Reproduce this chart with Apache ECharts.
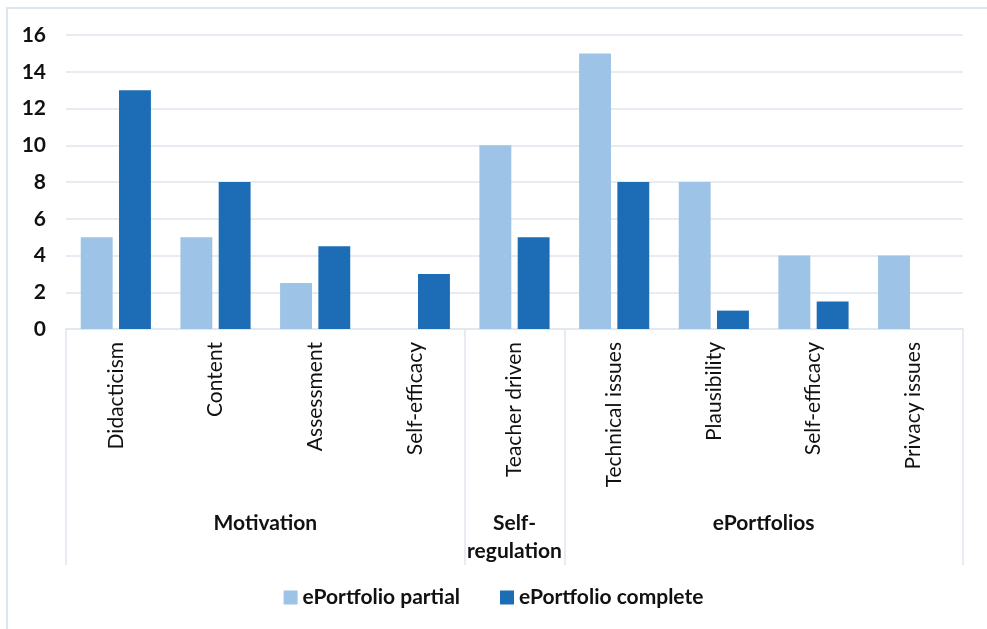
<!DOCTYPE html>
<html>
<head>
<meta charset="utf-8">
<script src="https://cdn.jsdelivr.net/npm/echarts@6/dist/echarts.min.js"></script>
<style>
  html, body { margin: 0; padding: 0; background: #fff; }
  #chart { width: 987px; height: 629px; }
</style>
</head>
<body>
<div id="chart"></div>
<script>
// categories and values
const categories = ['Didacticism', 'Content', 'Assessment', 'Self-efficacy', 'Teacher driven',
  'Technical issues', 'Plausibility', 'Self-efficacy', 'Privacy issues'];
const partial = [5, 5, 2.5, 0, 10, 15, 8, 4, 4];
const complete = [13, 8, 4.5, 3, 5, 8, 1, 1.5, 0];
const groupNames = ['Motivation', 'Self-\nregulation', 'ePortfolios'];
const groupSpans = [4, 1, 4];
const yTicks = [0, 2, 4, 6, 8, 10, 12, 14, 16];

// group centres and boundaries in category units
const groupCenters = [];
const groupStarts = [];
let acc = 0;
groupSpans.forEach(s => { groupStarts.push(acc); groupCenters.push(acc + s / 2); acc += s; });

const font = 'Lato, "Open Sans", sans-serif';
const lineCol = '#dfe6ee';

const chart = echarts.init(document.getElementById('chart'));
chart.setOption({
  animation: false,
  graphic: [{
    type: 'rect',
    shape: { x: 7, y: 8, width: 990, height: 640 },
    style: { fill: 'none', stroke: '#dde5ee', lineWidth: 2 },
    silent: true
  }],
  grid: { left: 66, right: 24, top: 35, bottom: 300 },
  legend: {
    bottom: 16,
    left: 'center',
    itemWidth: 14,
    itemHeight: 14,
    itemGap: 40,
    icon: 'rect',
    textStyle: { fontFamily: font, fontSize: 21, fontWeight: 'bold', color: '#111' }
  },
  xAxis: [{
    type: 'category',
    data: categories,
    axisLine: { show: true, lineStyle: { color: lineCol, width: 1.5 } },
    axisTick: {
      show: true,
      length: 236,
      interval: (i) => groupStarts.indexOf(i) >= 0,
      lineStyle: { color: lineCol, width: 1.5 }
    },
    axisLabel: {
      rotate: 90,
      interval: 0,
      margin: 13,
      fontFamily: font,
      fontSize: 21,
      color: '#111'
    }
  }, {
    type: 'value',
    position: 'bottom',
    min: 0,
    max: categories.length,
    axisLine: { show: false },
    axisTick: { show: false },
    splitLine: { show: false },
    axisLabel: {
      customValues: groupCenters,
      margin: 180,
      fontFamily: font,
      fontSize: 21,
      fontWeight: 'bold',
      lineHeight: 28,
      color: '#111',
      formatter: (v) => groupNames[groupCenters.indexOf(v)]
    }
  }],
  yAxis: {
    type: 'value',
    min: 0,
    max: 16,
    interval: 2,
    axisLine: { show: false },
    axisTick: { show: false },
    splitLine: { lineStyle: { color: lineCol, width: 1.5 } },
    axisLabel: {
      margin: 20,
      fontFamily: font,
      fontSize: 21,
      fontWeight: 'bold',
      color: '#111',
      formatter: (v) => yTicks.indexOf(v) >= 0 ? String(v) : ''
    }
  },
  series: [{
    name: 'ePortfolio partial',
    type: 'bar',
    data: partial,
    barWidth: '32%',
    barGap: '20%',
    itemStyle: { color: '#9dc3e6' }
  }, {
    name: 'ePortfolio complete',
    type: 'bar',
    data: complete,
    barWidth: '32%',
    itemStyle: { color: '#1c6db5' }
  }]
});
</script>
</body>
</html>
